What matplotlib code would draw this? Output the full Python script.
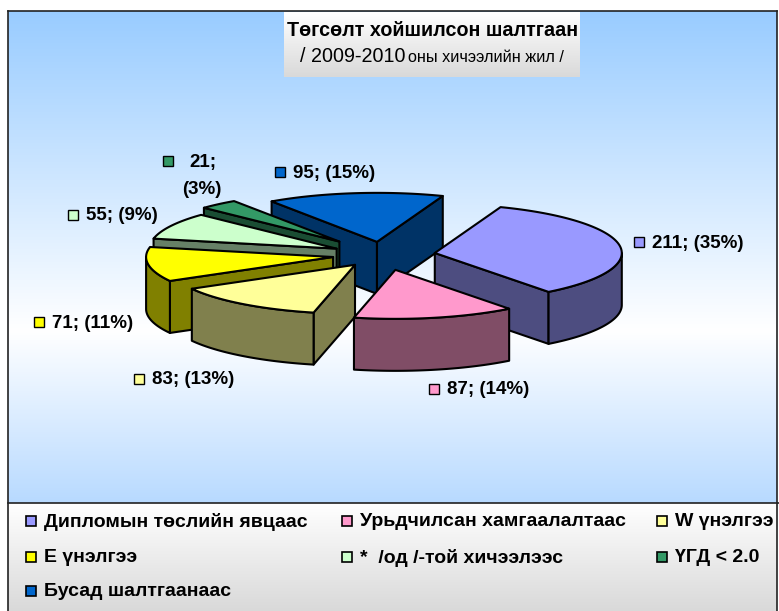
# Төгсөлт хойшилсон шалтгаан - exploded 3D pie drawn by hand on a pixel sized axes
import numpy as np
import matplotlib
matplotlib.use("Agg")
import matplotlib.pyplot as plt
from matplotlib.colors import LinearSegmentedColormap, to_rgb
from matplotlib.patches import Polygon, Rectangle

plt.rcParams['font.family'] = ['Liberation Sans', 'DejaVu Sans']

# data
categories = ["Дипломын төслийн явцаас", "Урьдчилсан хамгаалалтаас", "W үнэлгээ",
              "Е үнэлгээ", "*  /од /-той хичээлээс", "ҮГД < 2.0", "Бусад шалтгаанаас"]
values = [211, 87, 83, 71, 55, 21, 95]
percents = [35, 14, 13, 11, 9, 3, 15]
explode = [0.28, 0.31, 0.25, 0.27, 0.28, 0.36, 0.27]
colors = ["#9999FF", "#FF99CC", "#FFFF99", "#FFFF00", "#CCFFCC", "#339966", "#0066CC"]

# pie geometry, in pixels
cx, cy = 383, 255
rx, ry = 187, 49
depth = 52
start_angle = 69.4
draw_order = [6, 5, 4, 3, 2, 0, 1]

# label anchors (swatch left, middle y)
label_pos = [(634, 242), (429, 389), (134, 379), (34, 322), (68, 215), (163, 161), (275, 172)]
legend_x = [26, 342, 657]
legend_y = [521, 557, 591]


def gradient(ax, x0, x1, y0, y1, stops, z=0):
    cmap = LinearSegmentedColormap.from_list("g", stops)
    grad = np.linspace(0, 1, 256).reshape(-1, 1)
    ax.imshow(grad, cmap=cmap, extent=(x0, x1, y1, y0), aspect="auto", zorder=z, vmin=0, vmax=1)


def darker(c):
    r, g, b = to_rgb(c)
    return (r * 0.5, g * 0.5, b * 0.5)


fig = plt.figure(figsize=(7.79, 6.11), dpi=100)
ax = fig.add_axes([0, 0, 1, 1])

# backgrounds
gradient(ax, 8, 777, 11, 503, [(0, "#99CCFF"), (0.65, "#FFFFFF"), (1, "#B8DAFF")])
gradient(ax, 8, 777, 503, 611, [(0, "#FFFFFF"), (1, "#D9D9D9")])
gradient(ax, 284, 580, 12, 77, [(0, "#FFFFFF"), (1, "#D9D9D9")], z=1)
ax.plot([8, 777], [11, 11], color="#222222", lw=1.2, zorder=2)
ax.plot([8, 779], [503, 503], color="#222222", lw=1.2, zorder=2)
ax.plot([8, 8], [11, 611], color="#222222", lw=1.2, zorder=2)
ax.plot([777, 777], [11, 611], color="#222222", lw=1.2, zorder=2)

# wedges
fracs = np.array(values) / sum(values) * 360
ends = start_angle - np.cumsum(fracs)
starts = ends + fracs


def pt(ox, oy, deg, dz=0):
    t = np.radians(deg)
    return ox + rx * np.cos(t), oy - ry * np.sin(t) + dz


for i in draw_order:
    a0, a1 = starts[i], ends[i]
    mid = np.radians((a0 + a1) / 2)
    ox = cx + explode[i] * rx * np.cos(mid)
    oy = cy - explode[i] * ry * np.sin(mid)
    side = darker(colors[i])
    style = dict(edgecolor="black", lw=1.5, joinstyle="round", zorder=5)

    # radial faces turned towards the viewer
    if np.cos(np.radians(a0)) < 0:
        p = pt(ox, oy, a0)
        ax.add_patch(Polygon([(ox, oy), p, (p[0], p[1] + depth), (ox, oy + depth)], facecolor=side, **style))
    if np.cos(np.radians(a1)) > 0:
        p = pt(ox, oy, a1)
        ax.add_patch(Polygon([(ox, oy), p, (p[0], p[1] + depth), (ox, oy + depth)], facecolor=side, **style))

    # outer rim, only the part below the ellipse centre line
    k0 = np.floor((a0 + 180) / 360)
    lo = max(a1, -180 + 360 * k0)
    hi = min(a0, 0 + 360 * k0)
    if hi > lo:
        arc = np.linspace(hi, lo, 60)
        top = [pt(ox, oy, d) for d in arc]
        bottom = [pt(ox, oy, d, depth) for d in arc[::-1]]
        ax.add_patch(Polygon(top + bottom, facecolor=side, **style))

    # top face
    arc = np.linspace(a0, a1, 90)
    ax.add_patch(Polygon([(ox, oy)] + [pt(ox, oy, d) for d in arc], facecolor=colors[i], **style))

# data labels
for i, (x, y) in enumerate(label_pos):
    ax.add_patch(Rectangle((x, y - 5), 10, 10, facecolor=colors[i], edgecolor="black", lw=1, zorder=6))
    if values[i] == 21:
        ax.text(x + 40, y + 2, f"{values[i]};", fontsize=13.5, fontweight="bold", ha="center", va="center", zorder=6)
        ax.text(x + 39, y + 28, f"({percents[i]}%)", fontsize=13.5, fontweight="bold", ha="center", va="center", zorder=6)
    else:
        ax.text(x + 18, y + 1, f"{values[i]}; ({percents[i]}%)", fontsize=13.5, fontweight="bold", va="center", zorder=6)

# legend
for i, name in enumerate(categories):
    x = legend_x[i % 3]
    y = legend_y[i // 3]
    ax.add_patch(Rectangle((x, y - 5), 10, 10, facecolor=colors[i], edgecolor="black", lw=1.2, zorder=6))
    ax.text(x + 18, y + 1, name, fontsize=14, fontweight="bold", va="center", zorder=6)

# title
ax.text(433, 30, "Төгсөлт хойшилсон шалтгаан", fontsize=14.2, fontweight="bold", ha="center", va="center", zorder=6)
ax.text(300, 57, "/ 2009-2010", fontsize=14.2, va="center", zorder=6)
ax.text(408, 58, "оны хичээлийн жил /", fontsize=11.7, va="center", zorder=6)

ax.set_xlim(0, 779)
ax.set_ylim(611, 0)
ax.axis("off")
fig.savefig("out.png", dpi=100, facecolor="white")
